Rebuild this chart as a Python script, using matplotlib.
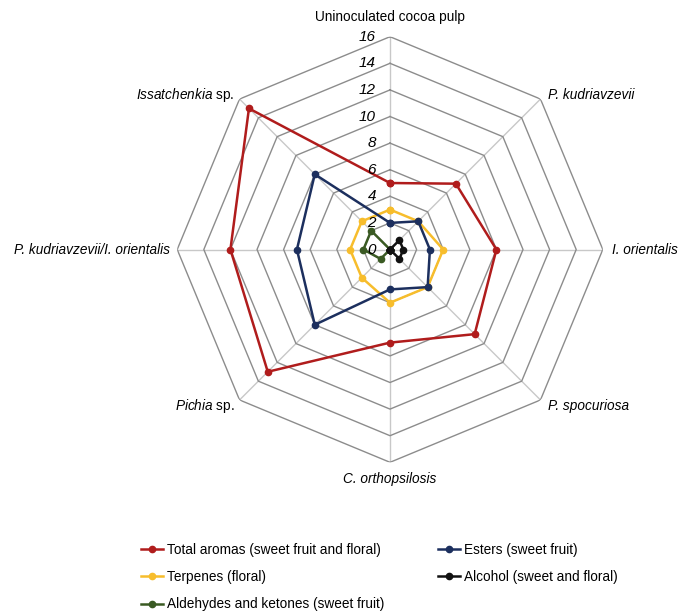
import numpy as np
import matplotlib.pyplot as plt

plt.rcParams['font.family'] = ['Liberation Sans', 'DejaVu Sans']
plt.rcParams['mathtext.fontset'] = 'custom'
plt.rcParams['mathtext.rm'] = 'Liberation Sans'
plt.rcParams['mathtext.it'] = 'Liberation Sans:italic'

# Data
categories = ['Uninoculated cocoa pulp', 'P. kudriavzevii', 'I. orientalis',
              'P. spocuriosa', 'C. orthopsilosis', r'$\it{Pichia}$ sp.',
              'P. kudriavzevii/I. orientalis', r'$\it{Issatchenkia}$ sp.']
italic_label = [False, True, True, True, True, False, True, False]

total_aromas = [5, 7, 8, 9, 7, 13, 12, 15]
esters = [2, 3, 3, 4, 3, 8, 7, 8]
terpenes = [3, 3, 4, 4, 4, 3, 3, 3]
alcohol = [0, 1, 1, 1, 0, 0, 0, 0]
aldehydes = [0, 0, 0, 0, 0, 1, 2, 2]

series = [
    ('Total aromas (sweet fruit and floral)', total_aromas, '#b01c1c'),
    ('Terpenes (floral)', terpenes, '#f7bd2c'),
    ('Aldehydes and ketones (sweet fruit)', aldehydes, '#3a5a23'),
    ('Esters (sweet fruit)', esters, '#1c2f5e'),
    ('Alcohol (sweet and floral)', alcohol, '#111111'),
]
ticks = np.arange(0, 17, 2)

n = len(categories)
theta = np.linspace(0, 2 * np.pi, n, endpoint=False)
theta_closed = np.append(theta, theta[0])

fig = plt.figure(figsize=(6.8, 6.16), dpi=100)
ax = fig.add_axes([0.2606, 0.2495, 0.6259, 0.6909], projection='polar')
ax.set_theta_zero_location('N')
ax.set_theta_direction(-1)
ax.set_ylim(0, 16)
ax.grid(False)
ax.spines['polar'].set_visible(False)
ax.set_xticks([])
ax.set_yticks([])
ax.patch.set_visible(False)

# grille octogonale
for t in theta:
    ax.plot([t, t], [0, 16], color='#c8c8c8', lw=1, zorder=1)
for r in ticks[1:]:
    ax.plot(theta_closed, [r] * (n + 1), color='#8c8c8c', lw=1, zorder=1)

# graduations
for r in ticks:
    ax.annotate(str(r), (0, r), xytext=(-14, 0), textcoords='offset pixels',
                ha='right', va='center', fontsize=11, style='italic', zorder=5)

# libellés des axes (décalage en pixels depuis le sommet)
offsets = [(0, 13), (8, 4), (9, 0), (8, -6), (0, -10), (-5, -6), (-7, 0), (-5, 4)]
aligns = [('center', 'bottom'), ('left', 'center'), ('left', 'center'),
          ('left', 'center'), ('center', 'top'), ('right', 'center'),
          ('right', 'center'), ('right', 'center')]
for t, lab, it, off, (ha, va) in zip(theta, categories, italic_label, offsets, aligns):
    ax.annotate(lab, (t, 16), xytext=off, textcoords='offset pixels',
                ha=ha, va=va, fontsize=9.8, style='italic' if it else 'normal')

for name, vals, col in series:
    ax.plot(theta_closed, vals + vals[:1], color=col, lw=1.8, marker='o',
            markersize=4.5, label=name, zorder=3)

fig.legend(loc='upper left', bbox_to_anchor=(0.19, 0.139), ncol=2,
           frameon=False, fontsize=9.8, handlelength=1.6, columnspacing=4.0,
           labelspacing=0.98, handletextpad=0.25)

fig.savefig('out.png', dpi=100)
